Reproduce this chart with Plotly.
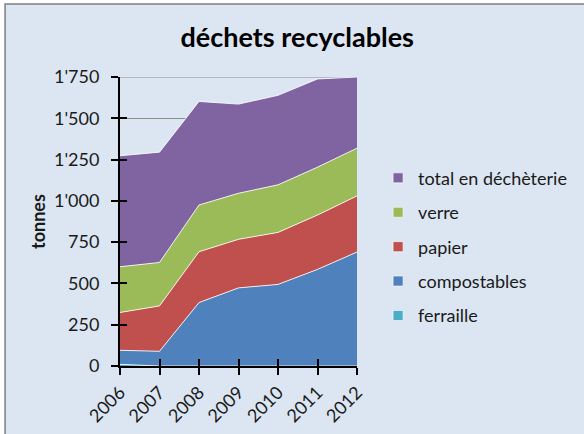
import plotly.graph_objects as go

years = [2006, 2007, 2008, 2009, 2010, 2011, 2012]
series_names = ["ferraille", "compostables", "papier", "verre", "total en déchèterie"]
ferraille = [10, 0, 0, 0, 0, 0, 0]
compostables = [85, 89, 384, 473, 494, 585, 690]
papier = [229, 275, 308, 294, 315, 329, 340]
verre = [277, 263, 283, 279, 288, 290, 289]
total_decheterie = [672, 668, 627, 540, 542, 534, 431]
series_values = [ferraille, compostables, papier, verre, total_decheterie]
colors = ["#4bacc6", "#4f81bd", "#c0504d", "#9bbb59", "#8064a2"]
y_ticks = [0, 250, 500, 750, 1000, 1250, 1500, 1750]

FONT = "Lato, Open Sans, sans-serif"

fig = go.Figure()
for name, vals, col in zip(series_names, series_values, colors):
    fig.add_trace(go.Scatter(
        x=years, y=vals, name=name, mode="lines", stackgroup="one",
        line=dict(color="rgba(255,255,255,0.85)", width=1),
        fillcolor=col, showlegend=False, hoverinfo="x+y+name",
    ))
# legend entries (square swatches), top of stack listed first
for name, col in reversed(list(zip(series_names, colors))):
    fig.add_trace(go.Scatter(
        x=[None], y=[None], name=name, mode="markers", legendgroup=name,
        marker=dict(symbol="square", size=10, color=col,
                    line=dict(color="rgba(255,255,255,0.6)", width=1)),
    ))
# helper axes for crossing tick marks
fig.add_trace(go.Scatter(x=[years[0]], y=[0], xaxis="x2", yaxis="y2",
                         mode="markers", marker=dict(opacity=0),
                         showlegend=False, hoverinfo="skip"))

axis_common = dict(showline=True, linecolor="black", linewidth=2,
                   ticks="outside", ticklen=7, tickwidth=2, tickcolor="black",
                   zeroline=False, automargin=False)

fig.update_layout(
    width=584, height=434,
    margin=dict(l=120, r=227, t=77, b=68),
    paper_bgcolor="white",
    plot_bgcolor="rgba(0,0,0,0)",
    separators=".'",
    font=dict(family=FONT, size=18, color="#1a1a1a"),
    title=dict(text="<b>déchets recyclables</b>", x=0.509, xanchor="center",
               y=0.913, yanchor="middle", font=dict(size=27, color="black")),
    xaxis=dict(range=[years[0], years[-1]], tickvals=years, tickangle=-45,
               showgrid=False, tickfont=dict(size=18), **axis_common),
    yaxis=dict(range=[0, 1750], tickvals=y_ticks, tickformat=",d",
               showgrid=True, gridcolor="#8c8c8c", gridwidth=1,
               tickfont=dict(size=18), ticklabelstandoff=8,
               title=dict(text="<b>tonnes</b>", font=dict(size=18), standoff=4),
               **axis_common),
    xaxis2=dict(overlaying="x", matches="x", ticks="inside", ticklen=7,
                tickwidth=2, tickcolor="black", tickvals=years,
                showticklabels=False, showgrid=False, zeroline=False,
                showline=False),
    yaxis2=dict(overlaying="y", matches="y", ticks="inside", ticklen=7,
                tickwidth=2, tickcolor="black", tickvals=y_ticks,
                showticklabels=False, showgrid=False, zeroline=False,
                showline=False),
    legend=dict(x=1.089, xanchor="left", y=0.714, yanchor="top",
                traceorder="grouped", tracegroupgap=8,
                bgcolor="rgba(0,0,0,0)", font=dict(size=18)),
    showlegend=True,
    shapes=[dict(type="rect", xref="paper", yref="paper",
                 x0=-0.485, x1=1.99, y0=-0.26, y1=1.2526,
                 fillcolor="#dce6f2", line=dict(color="#7f7f7f", width=1.5),
                 layer="below"),
            dict(type="line", xref="paper", yref="y", x0=0, x1=1,
                 y0=y_ticks[-1], y1=y_ticks[-1],
                 line=dict(color="#8c8c8c", width=1), layer="below")],
)

fig.write_html("out.html",
               config={"displayModeBar": False},
               post_script="document.body.style.margin='0px';"
                           "document.body.style.overflow='hidden';")
